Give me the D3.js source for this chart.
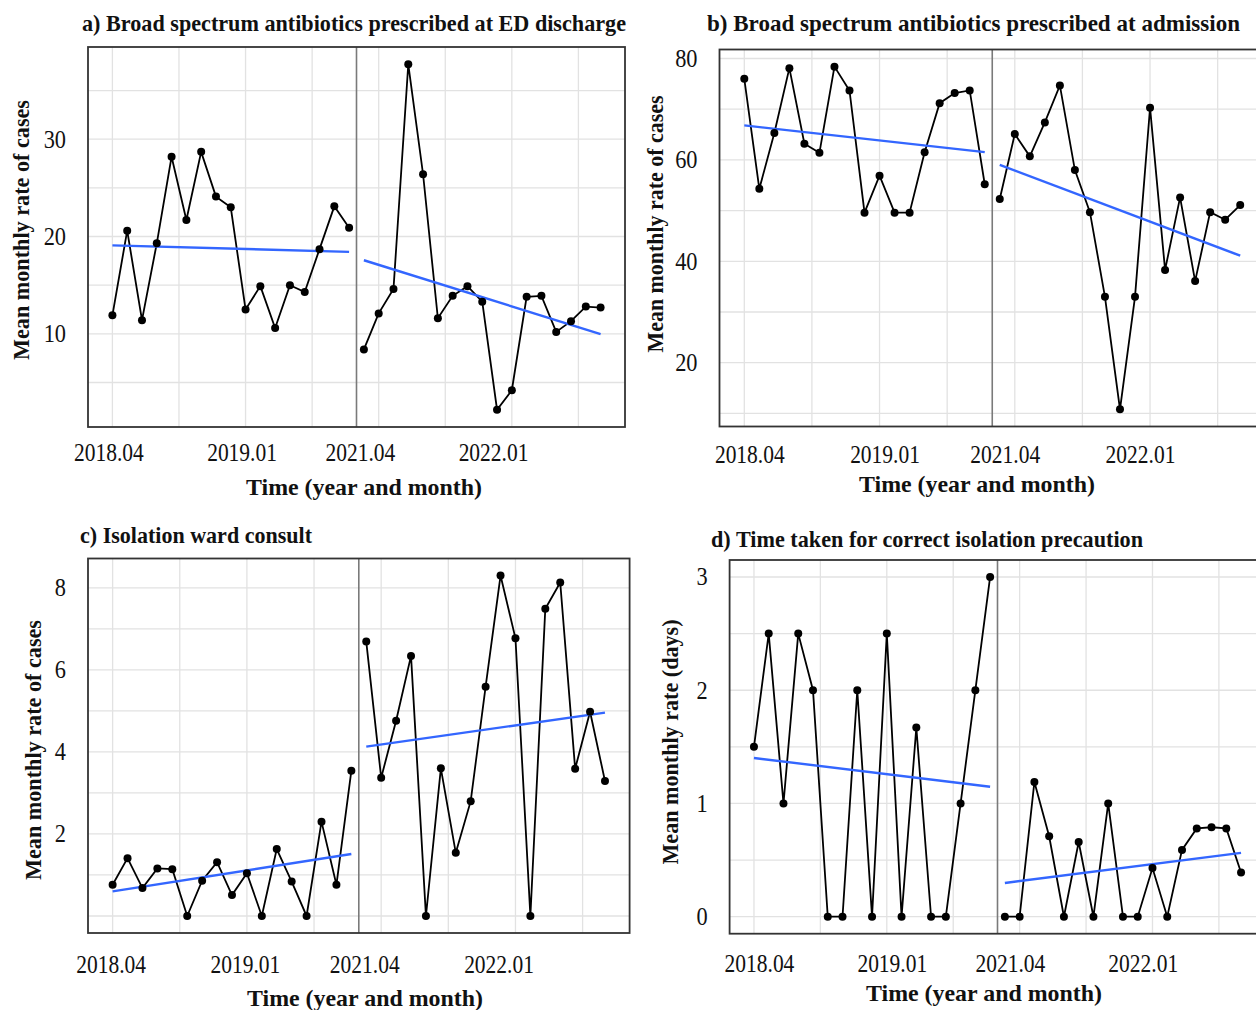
<!DOCTYPE html>
<html>
<head>
<meta charset="utf-8">
<script src="https://d3js.org/d3.v7.min.js"></script>
<style>
  body { margin: 0; background: #fff; }
  text { font-family: "Liberation Serif", "Times New Roman", serif; fill: #111; }
</style>
</head>
<body></body>
<script>
// x categories: months before and after the intervention
var preMonths = ["2018.04","2018.05","2018.06","2018.07","2018.08","2018.09","2018.10","2018.11","2018.12",
                 "2019.01","2019.02","2019.03","2019.04","2019.05","2019.06","2019.07","2019.08"];
var postMonths = ["2021.04","2021.05","2021.06","2021.07","2021.08","2021.09","2021.10","2021.11","2021.12",
                  "2022.01","2022.02","2022.03","2022.04","2022.05","2022.06","2022.07","2022.08"];
var xTickLabels = ["2018.04","2019.01","2021.04","2022.01"];
var xBreaks = [0, 9, 18, 27];

var titles = ["a) Broad spectrum antibiotics prescribed at ED discharge",
              "b) Broad spectrum antibiotics prescribed at admission",
              "c) Isolation ward consult",
              "d) Time taken for correct isolation precaution"];
var yTitles = ["Mean monthly rate of cases", "Mean monthly rate of cases",
               "Mean monthly rate of cases", "Mean monthly rate (days)"];
var xTitle = "Time (year and month)";
var yTicks = [[10, 20, 30], [20, 40, 60, 80], [2, 4, 6, 8], [0, 1, 2, 3]];

// series values
var aPre  = [11.9, 20.6, 11.4, 19.3, 28.2, 21.7, 28.7, 24.1, 23.0, 12.5, 14.9, 10.6, 15.0, 14.3, 18.7, 23.1, 20.9];
var aPost = [8.4, 12.1, 14.6, 37.7, 26.4, 11.6, 13.9, 14.9, 13.3, 2.2, 4.2, 13.8, 13.9, 10.2, 11.3, 12.8, 12.7];
var bPre  = [76.0, 54.3, 65.3, 78.1, 63.2, 61.4, 78.4, 73.7, 49.6, 56.9, 49.6, 49.6, 61.5, 71.2, 73.2, 73.7, 55.2];
var bPost = [52.3, 65.1, 60.7, 67.4, 74.7, 58.0, 49.7, 33.0, 10.8, 33.0, 70.3, 38.3, 52.6, 36.1, 49.7, 48.2, 51.1];
var cPre  = [0.76, 1.41, 0.68, 1.16, 1.14, 0, 0.86, 1.31, 0.51, 1.04, 0, 1.63, 0.84, 0, 2.30, 0.76, 3.54];
var cPost = [6.69, 3.37, 4.76, 6.34, 0, 3.60, 1.54, 2.80, 5.59, 8.30, 6.77, 0, 7.49, 8.13, 3.59, 4.98, 3.29];
var dPre  = [1.5, 2.5, 1, 2.5, 2, 0, 0, 2, 0, 2.5, 0, 1.67, 0, 0, 1, 2, 3];
var dPost = [0, 0, 1.19, 0.71, 0, 0.66, 0, 1, 0, 0, 0.43, 0, 0.59, 0.78, 0.79, 0.78, 0.39];

var series = [[aPre, aPost], [bPre, bPost], [cPre, cPost], [dPre, dPost]];

// panel layout (pixels)
var layout = [
  {x0: 88,    x1: 625,    y0: 47,   y1: 427,   tx: 82,  ty: 31,  tw: 544, yx: 21,  yy: 230, yw: 260, tickY: 452, tickDx: -4, xtx: 364, xty: 495},
  {x0: 719.5, x1: 1265,   y0: 49.5, y1: 426.5, tx: 707, ty: 31,  tw: 533, yx: 655, yy: 224, yw: 257, tickY: 454, tickDx: 5,  xtx: 977, xty: 492},
  {x0: 88,    x1: 629.6,  y0: 558.5,y1: 933,   tx: 80,  ty: 543, tw: 232, yx: 33,  yy: 750, yw: 260, tickY: 964, tickDx: -2, xtx: 365, xty: 1006},
  {x0: 729.6, x1: 1265.4, y0: 560,  y1: 933.7, tx: 711, ty: 547, tw: 432, yx: 670, yy: 742, yw: 245, tickY: 963, tickDx: 5,  xtx: 984, xty: 1001}
];

var allMonths = preMonths.concat(postMonths);
var squeeze = 0.86;

var svg = d3.select("body").append("svg")
    .attr("width", 1256)
    .attr("height", 1010);

svg.append("rect").attr("width", 1256).attr("height", 1010).attr("fill", "#fff");

function fit(xs, ys) {
    var mx = d3.mean(xs), my = d3.mean(ys);
    var sxy = d3.sum(xs, function(d, i) { return (d - mx) * (ys[i] - my); });
    var sxx = d3.sum(xs, function(d) { return (d - mx) * (d - mx); });
    var b = sxy / sxx;
    return function(x) { return my + b * (x - mx); };
}

function gridValues(breaks, domain) {
    var step = breaks[1] - breaks[0];
    var ext = [breaks[0] - step].concat(breaks, [breaks[breaks.length - 1] + step]);
    var vals = ext.slice();
    for (var i = 0; i < ext.length - 1; i++) vals.push((ext[i] + ext[i + 1]) / 2);
    var lo = Math.min(domain[0], domain[1]), hi = Math.max(domain[0], domain[1]);
    return vals.filter(function(v) { return v >= lo && v <= hi; });
}

series.forEach(function(s, k) {
    var L = layout[k];
    var pre = s[0], post = s[1];
    var preData = pre.map(function(v, i) { return {i: i, v: v}; });
    var postData = post.map(function(v, j) { return {i: pre.length + j, v: v}; });
    var all = preData.concat(postData);

    var n = allMonths.length - 1;
    var x = d3.scaleLinear().domain([-0.05 * n, n * 1.05]).range([L.x0, L.x1]);
    var ext = d3.extent(all, function(d) { return d.v; });
    var pad = 0.05 * (ext[1] - ext[0]);
    var y = d3.scaleLinear().domain([ext[0] - pad, ext[1] + pad]).range([L.y1, L.y0]);

    var g = svg.append("g");

    // grid
    g.selectAll(".gx").data(gridValues(xBreaks, x.domain())).enter().append("line")
        .attr("x1", function(d) { return x(d); }).attr("x2", function(d) { return x(d); })
        .attr("y1", L.y0).attr("y2", L.y1)
        .attr("stroke", "#e2e2e2").attr("stroke-width", 1.3);
    g.selectAll(".gy").data(gridValues(yTicks[k], y.domain())).enter().append("line")
        .attr("x1", L.x0).attr("x2", L.x1)
        .attr("y1", function(d) { return y(d); }).attr("y2", function(d) { return y(d); })
        .attr("stroke", "#e2e2e2").attr("stroke-width", 1.3);

    // intervention divider
    var cut = (pre.length - 1 + pre.length) / 2;
    g.append("line")
        .attr("x1", x(cut)).attr("x2", x(cut))
        .attr("y1", L.y0).attr("y2", L.y1)
        .attr("stroke", "#7a7a7a").attr("stroke-width", 1.6);

    var line = d3.line().x(function(d) { return x(d.i); }).y(function(d) { return y(d.v); });

    [preData, postData].forEach(function(seg) {
        g.append("path").datum(seg)
            .attr("d", line)
            .attr("fill", "none").attr("stroke", "#000").attr("stroke-width", 1.8);
    });

    // linear trend per segment
    [preData, postData].forEach(function(seg) {
        var f = fit(seg.map(function(d) { return d.i; }), seg.map(function(d) { return d.v; }));
        var ends = [seg[0].i, seg[seg.length - 1].i].map(function(i) { return {i: i, v: f(i)}; });
        g.append("path").datum(ends)
            .attr("d", line)
            .attr("fill", "none").attr("stroke", "#3366FF").attr("stroke-width", 2.4);
    });

    g.selectAll(".pt").data(all).enter().append("circle")
        .attr("cx", function(d) { return x(d.i); })
        .attr("cy", function(d) { return y(d.v); })
        .attr("r", 4)
        .attr("fill", "#000");

    // frame
    g.append("rect")
        .attr("x", L.x0).attr("y", L.y0)
        .attr("width", L.x1 - L.x0).attr("height", L.y1 - L.y0)
        .attr("fill", "none").attr("stroke", "#333").attr("stroke-width", 1.8);

    // x axis labels
    var xAxis = d3.axisBottom(x)
        .tickValues(xTickLabels.map(function(m) { return allMonths.indexOf(m); }))
        .tickFormat(function(i) { return allMonths[i]; })
        .tickSize(0);
    var xa = svg.append("g").attr("transform", "translate(" + L.tickDx + "," + L.tickY + ")").call(xAxis);
    xa.select(".domain").remove();
    xa.selectAll("text")
        .attr("y", 0).attr("dy", "0.35em")
        .attr("transform", "scale(" + squeeze + ",1)")
        .style("font-size", "25px").style("font-family", "Liberation Serif, serif").attr("fill", "#111");

    // y axis labels
    var yAxis = d3.axisLeft(y).tickValues(yTicks[k]).tickFormat(d3.format("d")).tickSize(0);
    var ya = svg.append("g").attr("transform", "translate(" + (L.x0 - 22) + ",0)").call(yAxis);
    ya.select(".domain").remove();
    ya.selectAll("text")
        .attr("x", 0).attr("dy", "0.3em")
        .attr("transform", "scale(" + squeeze + ",1)")
        .style("font-size", "26px").style("font-family", "Liberation Serif, serif").attr("fill", "#111");

    // titles
    svg.append("text")
        .attr("x", L.tx).attr("y", L.ty)
        .attr("textLength", L.tw).attr("lengthAdjust", "spacingAndGlyphs")
        .style("font-size", "23px").style("font-weight", "bold")
        .text(titles[k]);

    svg.append("text")
        .attr("transform", "translate(" + L.yx + "," + L.yy + ") rotate(-90)")
        .attr("text-anchor", "middle").attr("dy", "0.35em")
        .attr("textLength", L.yw).attr("lengthAdjust", "spacingAndGlyphs")
        .style("font-size", "23px").style("font-weight", "bold")
        .text(yTitles[k]);

    svg.append("text")
        .attr("x", L.xtx).attr("y", L.xty)
        .attr("text-anchor", "middle")
        .attr("textLength", 236).attr("lengthAdjust", "spacingAndGlyphs")
        .style("font-size", "24px").style("font-weight", "bold")
        .text(xTitle);
});
</script>
</html>
